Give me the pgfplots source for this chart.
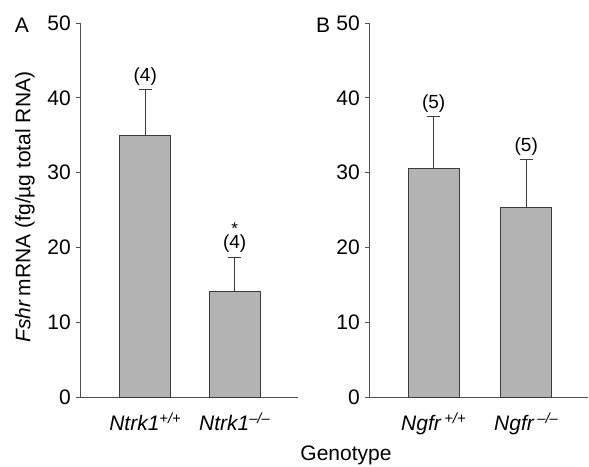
\documentclass[border=0pt]{standalone}
\usepackage{pgfplots}
\pgfplotsset{compat=1.18}
\usepackage{fontspec}
\setmainfont{Liberation Sans}
\definecolor{barfill}{HTML}{B3B3B3}
\definecolor{baredge}{HTML}{3C3C3C}
\definecolor{axgray}{HTML}{505050}
\tikzset{nlabel/.style={font=\fontsize{19}{21}\selectfont, inner sep=1pt}}
\pgfplotsset{
  panel/.style={
    scale only axis,
    height=374pt,
    ymin=0, ymax=50,
    ytick={0,10,20,30,40,50},
    axis x line=bottom,
    axis y line=left,
    axis line style={-, draw=axgray, line width=1pt},
    tick align=outside,
    major tick length=4pt,
    ytick style={draw=axgray, line width=1pt},
    xtick style={draw=none},
    xtick={1,2},
    /pgf/number format/assume math mode=true,
    yticklabel style={font=\fontsize{21}{23}\selectfont, inner sep=2pt, xshift=-3pt},
    xticklabel style={font=\fontsize{21}{23}\selectfont\itshape, yshift=-8pt},
    clip=false,
  },
  bars/.style={
    ybar, bar width=51pt,
    fill=barfill, draw=baredge, line width=0.9pt,
    error bars/.cd, y dir=plus, y explicit,
    error mark=|,
    error bar style={draw=baredge, line width=0.9pt},
    error mark options={draw=baredge, line width=0.9pt, mark size=6.5pt},
  },
}
\begin{document}
\begin{tikzpicture}[x=1pt,y=1pt]
\path[use as bounding box] (0,0) rectangle (589,-466);
% Panel A
\begin{axis}[panel, at={(80pt,-397pt)}, anchor=south west,
  width=218pt, xmin=0.270, xmax=2.708,
  xticklabels={Ntrk1\textsuperscript{+/+}, Ntrk1\textsuperscript{–/–}}]
\addplot[bars] table[x=x, y=y, y error=e] {
x y e
1 35.0 6.1
2 14.1 4.6
};
\node[nlabel] at (axis cs:1,42.9) {(4)};
\node[nlabel, align=center, anchor=south] at ([yshift=3pt]axis cs:2,18.7)
  {{\fontsize{17}{21}\selectfont *}\\[-6.7pt](4)};
\end{axis}
% Panel B
\begin{axis}[panel, at={(369pt,-397pt)}, anchor=south west,
  width=219pt, xmin=0.301, xmax=2.667,
  xticklabels={Ngfr\,\textsuperscript{+/+}, Ngfr\,\textsuperscript{–/–}}]
\addplot[bars] table[x=x, y=y, y error=e] {
x y e
1 30.6 6.9
2 25.4 6.4
};
\node[nlabel] at (axis cs:1,39.2) {(5)};
\node[nlabel] at (axis cs:2,33.5) {(5)};
\end{axis}
\node[font=\fontsize{21}{23}\selectfont] at (22,-25) {A};
\node[font=\fontsize{21}{23}\selectfont] at (323,-25) {B};
\node[font=\fontsize{21}{23}\selectfont, rotate=90] at (25,-207) {\textit{Fshr}\,mRNA (fg/µg total RNA)};
\node[font=\fontsize{21}{23}\selectfont] at (346,-455) {Genotype};
\end{tikzpicture}
\end{document}
